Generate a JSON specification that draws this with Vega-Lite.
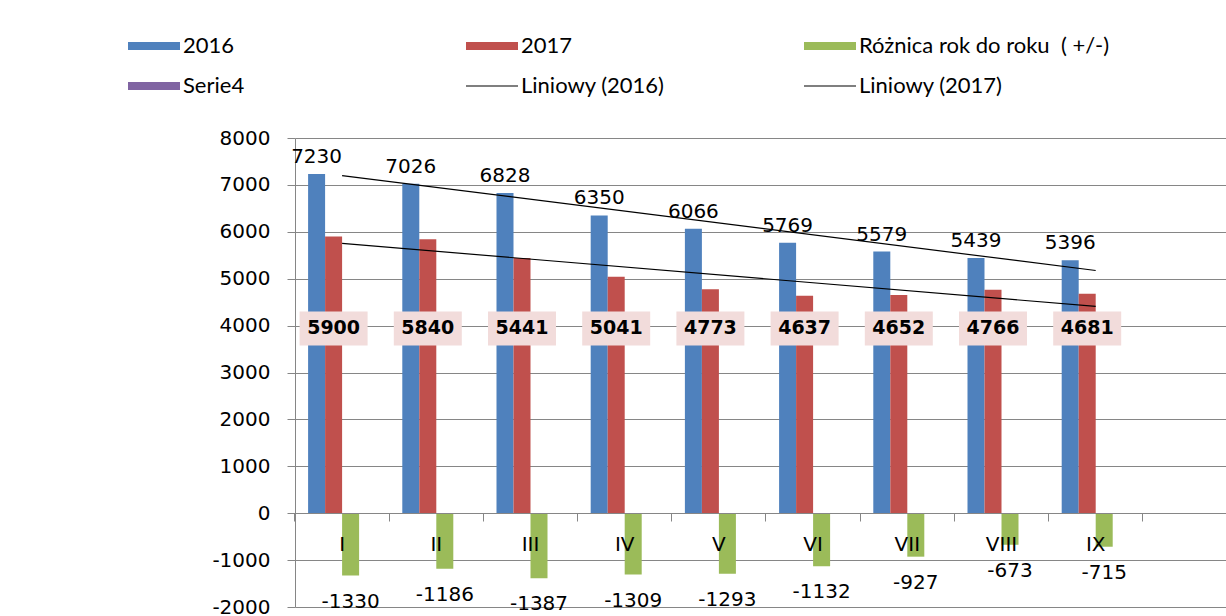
{
  "$schema": "https://vega.github.io/schema/vega-lite/v6.json",
  "autosize": {"type": "none"},
  "padding": {"left": 295, "top": 138, "right": 0, "bottom": 9},
  "width": 931,
  "height": 469,
  "background": "white",
  "config": {
    "locale": {"number": {"decimal": ".", "thousands": "", "grouping": [3], "currency": ["", ""], "minus": "-"}},
    "view": {"stroke": null}
  },
  "datasets": {
    "rows": [
      {"m": "I", "i": 1, "series": "2016", "v": 7230},
      {"m": "II", "i": 2, "series": "2016", "v": 7026},
      {"m": "III", "i": 3, "series": "2016", "v": 6828},
      {"m": "IV", "i": 4, "series": "2016", "v": 6350},
      {"m": "V", "i": 5, "series": "2016", "v": 6066},
      {"m": "VI", "i": 6, "series": "2016", "v": 5769},
      {"m": "VII", "i": 7, "series": "2016", "v": 5579},
      {"m": "VIII", "i": 8, "series": "2016", "v": 5439},
      {"m": "IX", "i": 9, "series": "2016", "v": 5396},
      {"m": "I", "i": 1, "series": "2017", "v": 5900},
      {"m": "II", "i": 2, "series": "2017", "v": 5840},
      {"m": "III", "i": 3, "series": "2017", "v": 5441},
      {"m": "IV", "i": 4, "series": "2017", "v": 5041},
      {"m": "V", "i": 5, "series": "2017", "v": 4773},
      {"m": "VI", "i": 6, "series": "2017", "v": 4637},
      {"m": "VII", "i": 7, "series": "2017", "v": 4652},
      {"m": "VIII", "i": 8, "series": "2017", "v": 4766},
      {"m": "IX", "i": 9, "series": "2017", "v": 4681},
      {"m": "I", "i": 1, "series": "Różnica rok do roku  ( +/-)", "v": -1330},
      {"m": "II", "i": 2, "series": "Różnica rok do roku  ( +/-)", "v": -1186},
      {"m": "III", "i": 3, "series": "Różnica rok do roku  ( +/-)", "v": -1387},
      {"m": "IV", "i": 4, "series": "Różnica rok do roku  ( +/-)", "v": -1309},
      {"m": "V", "i": 5, "series": "Różnica rok do roku  ( +/-)", "v": -1293},
      {"m": "VI", "i": 6, "series": "Różnica rok do roku  ( +/-)", "v": -1132},
      {"m": "VII", "i": 7, "series": "Różnica rok do roku  ( +/-)", "v": -927},
      {"m": "VIII", "i": 8, "series": "Różnica rok do roku  ( +/-)", "v": -673},
      {"m": "IX", "i": 9, "series": "Różnica rok do roku  ( +/-)", "v": -715}
    ]
  },
  "data": {"name": "rows"},
  "layer": [
    {
      "mark": {"type": "bar", "strokeWidth": 0},
      "encoding": {
        "x": {
          "field": "m", "type": "nominal", "sort": null,
          "scale": {"domain": ["I", "II", "III", "IV", "V", "VI", "VII", "VIII", "IX", "X"], "range": [0, 942], "paddingInner": 0.278, "paddingOuter": 0.139},
          "axis": {
            "title": null, "offset": -94, "bandPosition": -0.1926, "tickSize": 8, "labelPadding": 13,
            "labelAngle": 0, "labelFont": "DejaVu Sans", "labelFontSize": 20, "labelColor": "#000000",
            "domainColor": "#868686", "tickColor": "#868686", "grid": false, "zindex": 1,
            "labelExpr": "datum.value == 'X' ? '' : datum.value"
          }
        },
        "xOffset": {
          "field": "series", "type": "nominal",
          "scale": {"domain": ["2016", "2017", "Różnica rok do roku  ( +/-)", "Serie4"], "paddingInner": 0, "paddingOuter": 0}
        },
        "y": {
          "field": "v", "type": "quantitative",
          "scale": {"domain": [-2000, 8000], "nice": false},
          "axis": {
            "title": null, "values": [-2000, -1000, 0, 1000, 2000, 3000, 4000, 5000, 6000, 7000, 8000],
            "format": "d", "tickSize": 8, "labelPadding": 17, "labelFont": "DejaVu Sans", "labelFontSize": 20,
            "labelColor": "#000000", "domainColor": "#868686", "tickColor": "#868686",
            "gridColor": "#868686", "gridWidth": 1
          }
        },
        "color": {
          "field": "series", "type": "nominal",
          "scale": {
            "domain": ["2016", "2017", "Różnica rok do roku  ( +/-)", "Serie4", "Liniowy (2016)", "Liniowy (2017)"],
            "range": ["#4F81BD", "#C0504D", "#9BBB59", "#8064A2", "#000000", "#000000"]
          },
          "legend": {
            "title": null, "orient": "none", "legendX": -167, "legendY": -118, "direction": "horizontal",
            "columns": 3, "gridAlign": "all", "columnPadding": 32, "rowPadding": 3, "padding": 0,
            "symbolSize": 2704, "symbolType": "M-1,-0.15H1V0.15H-1Z", "symbolStrokeWidth": 0,
            "labelFont": "Lato", "labelFontSize": 22, "labelColor": "#000000", "labelOffset": 3, "labelLimit": 500,
            "labelExpr": "replace(datum.label, '  ', ' \u00a0')",
            "encode": {
              "symbols": {
                "update": {
                  "shape": {"signal": "test(/Liniowy/, datum.label) ? 'M-1,-0.022H1V0.022H-1Z' : 'M-1,-0.15H1V0.15H-1Z'"}
                }
              }
            }
          }
        }
      }
    },
    {
      "transform": [
        {"filter": "datum.series == '2016'"},
        {"regression": "v", "on": "i", "extent": [1, 9]},
        {"lookup": "i", "from": {"data": {"name": "rows"}, "key": "i", "fields": ["m"]}}
      ],
      "mark": {"type": "line", "color": "#000000", "strokeWidth": 1.2},
      "encoding": {
        "x": {"field": "m", "type": "nominal", "sort": null},
        "y": {"field": "v", "type": "quantitative"}
      }
    },
    {
      "transform": [
        {"filter": "datum.series == '2017'"},
        {"regression": "v", "on": "i", "extent": [1, 9]},
        {"lookup": "i", "from": {"data": {"name": "rows"}, "key": "i", "fields": ["m"]}}
      ],
      "mark": {"type": "line", "color": "#000000", "strokeWidth": 1.2},
      "encoding": {
        "x": {"field": "m", "type": "nominal", "sort": null},
        "y": {"field": "v", "type": "quantitative"}
      }
    },
    {
      "transform": [{"filter": "datum.series == '2017'"}],
      "mark": {"type": "point", "shape": "M-1,-0.5H1V0.5H-1Z", "filled": true, "size": 4624, "color": "#F2DCDB", "opacity": 1, "strokeWidth": 0},
      "encoding": {
        "x": {"field": "m", "type": "nominal", "sort": null},
        "xOffset": {"field": "series", "type": "nominal"},
        "y": {"datum": 3940, "type": "quantitative"}
      }
    },
    {
      "transform": [{"filter": "datum.series == '2017'"}],
      "mark": {"type": "text", "font": "DejaVu Sans", "fontWeight": "bold", "fontSize": 19, "color": "#000000", "baseline": "middle", "align": "center"},
      "encoding": {
        "x": {"field": "m", "type": "nominal", "sort": null},
        "xOffset": {"field": "series", "type": "nominal"},
        "y": {"datum": 3940, "type": "quantitative"},
        "text": {"field": "v", "type": "quantitative", "format": "d"}
      }
    },
    {
      "transform": [{"filter": "datum.series == '2016'"}],
      "mark": {"type": "text", "font": "DejaVu Sans", "fontSize": 20, "color": "#000000", "baseline": "middle", "align": "center", "dy": -17},
      "encoding": {
        "x": {"field": "m", "type": "nominal", "sort": null},
        "xOffset": {"field": "series", "type": "nominal"},
        "y": {"field": "v", "type": "quantitative"},
        "text": {"field": "v", "type": "quantitative", "format": "d"}
      }
    },
    {
      "transform": [{"filter": "datum.series == 'Różnica rok do roku  ( +/-)'"}],
      "mark": {"type": "text", "font": "DejaVu Sans", "fontSize": 20, "color": "#000000", "baseline": "middle", "align": "center", "dy": 26},
      "encoding": {
        "x": {"field": "m", "type": "nominal", "sort": null},
        "xOffset": {"field": "series", "type": "nominal"},
        "y": {"field": "v", "type": "quantitative"},
        "text": {"field": "v", "type": "quantitative", "format": "d"}
      }
    }
  ]
}
